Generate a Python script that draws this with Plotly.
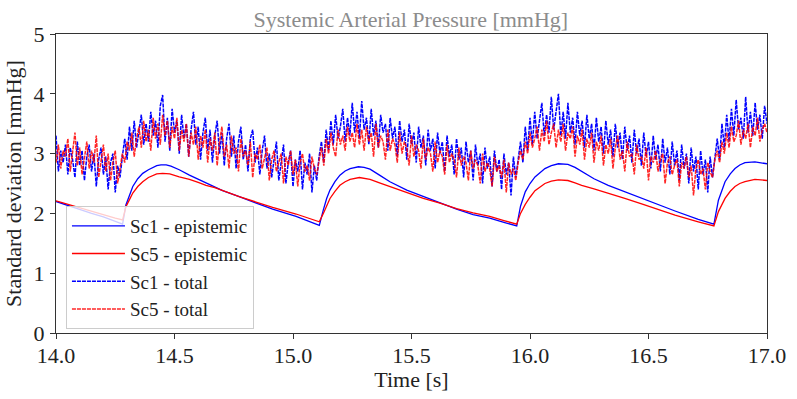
import numpy as np
import plotly.graph_objects as go

# ---- epistemic curves: (time, value) pairs ----
EPI_SC1 = [
    (14.00, 2.20), (14.05, 2.13), (14.10, 2.07), (14.15, 2.00), (14.20, 1.94), (14.25, 1.86),
    (14.281, 1.82), (14.295, 2.14), (14.31, 2.32), (14.324, 2.45), (14.345, 2.58), (14.366, 2.67),
    (14.39, 2.73), (14.408, 2.77), (14.425, 2.80), (14.443, 2.81), (14.465, 2.81), (14.485, 2.79),
    (14.52, 2.73), (14.563, 2.64), (14.60, 2.57), (14.633, 2.50), (14.67, 2.44), (14.703, 2.38),
    (14.773, 2.28), (14.844, 2.17), (14.914, 2.07), (15.013, 1.95), (15.06, 1.88), (15.111, 1.80),
    (15.128, 2.06), (15.142, 2.25), (15.156, 2.39), (15.177, 2.53), (15.198, 2.64), (15.22, 2.71),
    (15.241, 2.75), (15.276, 2.78), (15.30, 2.77), (15.325, 2.74), (15.365, 2.64), (15.409, 2.53),
    (15.48, 2.39), (15.55, 2.28), (15.62, 2.17), (15.69, 2.07), (15.76, 1.98), (15.83, 1.92),
    (15.89, 1.85), (15.944, 1.79), (15.96, 2.12), (15.98, 2.36), (16.00, 2.50), (16.021, 2.61),
    (16.063, 2.75), (16.09, 2.80), (16.12, 2.83), (16.16, 2.82), (16.19, 2.77), (16.218, 2.70),
    (16.27, 2.58), (16.33, 2.47), (16.40, 2.36), (16.471, 2.25), (16.54, 2.14), (16.612, 2.04),
    (16.71, 1.90), (16.776, 1.82), (16.795, 2.22), (16.81, 2.40), (16.823, 2.53), (16.845, 2.66),
    (16.865, 2.75), (16.885, 2.81), (16.907, 2.85), (16.949, 2.86), (16.975, 2.85), (17.00, 2.83),
]
EPI_SC5 = [
    (14.00, 2.21), (14.05, 2.15), (14.10, 2.09), (14.15, 2.03), (14.20, 1.98), (14.25, 1.92),
    (14.281, 1.89), (14.295, 2.11), (14.31, 2.23), (14.324, 2.34), (14.345, 2.45), (14.366, 2.53),
    (14.39, 2.60), (14.408, 2.63), (14.425, 2.66), (14.45, 2.67), (14.48, 2.66), (14.52, 2.61),
    (14.563, 2.57), (14.60, 2.52), (14.633, 2.47), (14.67, 2.43), (14.703, 2.38), (14.773, 2.28),
    (14.844, 2.19), (14.914, 2.10), (15.013, 1.99), (15.06, 1.93), (15.111, 1.86), (15.128, 2.00),
    (15.142, 2.13), (15.156, 2.25), (15.177, 2.37), (15.198, 2.47), (15.22, 2.53), (15.241, 2.57),
    (15.28, 2.60), (15.31, 2.58), (15.325, 2.57), (15.365, 2.51), (15.409, 2.45), (15.48, 2.35),
    (15.55, 2.25), (15.62, 2.17), (15.69, 2.08), (15.76, 2.01), (15.83, 1.95), (15.89, 1.88),
    (15.944, 1.82), (15.96, 2.00), (15.98, 2.15), (16.00, 2.27), (16.021, 2.38), (16.063, 2.50),
    (16.09, 2.54), (16.12, 2.56), (16.16, 2.55), (16.19, 2.51), (16.218, 2.47), (16.27, 2.41),
    (16.33, 2.34), (16.40, 2.25), (16.471, 2.16), (16.54, 2.07), (16.612, 1.97), (16.71, 1.86),
    (16.776, 1.79), (16.795, 2.03), (16.81, 2.16), (16.823, 2.25), (16.845, 2.37), (16.865, 2.45),
    (16.885, 2.50), (16.907, 2.53), (16.949, 2.57), (16.975, 2.56), (17.00, 2.55),
]

# ---- total std (noisy), sampled every 0.01 s from 14.00 to 17.00 ----
TOT_SC1 = [
    3.30, 2.70, 3.05, 2.85, 3.15, 2.65, 3.10, 2.90, 2.60, 3.20, 2.80, 3.05, 2.55, 2.95, 3.15, 2.70,
    3.00, 2.45, 2.90, 3.10, 2.65, 2.95, 2.40, 2.85, 3.00, 2.35, 2.80, 2.60,
    2.95, 3.25, 2.90, 3.45, 3.05, 3.55, 3.10, 3.40, 3.65, 3.15, 3.50, 3.20, 3.70, 3.30, 3.55, 3.10,
    3.80, 3.98,
    3.20, 3.60, 3.05, 3.75, 3.35, 3.55, 3.00, 3.65, 3.25, 3.50, 2.95, 3.40, 3.70, 3.15, 3.45, 2.90,
    3.35, 3.60, 3.05, 3.40, 2.85, 3.30, 3.55, 3.00, 3.35, 2.80, 3.25, 3.50, 2.95, 3.30, 2.75, 3.20,
    3.45, 2.90, 3.15, 2.70, 3.25, 3.40, 2.85, 3.10, 2.65, 3.05, 3.30, 2.75, 3.00, 2.60, 2.95, 3.20,
    2.55, 2.90, 3.15, 2.50, 2.85, 3.05, 2.45, 2.90, 2.70, 3.05, 2.40, 2.85, 2.65, 3.00, 2.35, 2.80,
    2.55,
    2.95, 3.20, 2.85, 3.40, 3.05, 3.55, 3.15, 3.65, 3.25, 3.45, 3.75, 3.20, 3.60, 3.30, 3.85, 3.35,
    3.70,
    3.25, 3.88, 3.40, 3.60, 3.15, 3.75, 3.30, 3.55, 3.10, 3.65, 3.35, 3.50, 3.05, 3.60, 3.25, 3.45,
    2.95, 3.55, 3.20, 3.40, 2.90, 3.50, 3.15, 3.35, 2.85, 3.45, 3.10, 3.30, 2.80, 3.40, 3.05, 3.25,
    2.75, 3.35, 3.00, 3.20, 2.70, 3.30, 2.95, 3.15, 2.65, 3.25, 2.90, 3.10, 2.60, 3.20, 2.85, 3.05,
    2.55, 3.15, 2.80, 3.00, 2.50, 3.10, 2.75, 2.95, 2.45, 3.05, 2.70, 2.90, 2.40, 3.00, 2.65, 2.85,
    2.30, 2.95, 2.60,
    2.90, 3.20, 2.85, 3.45, 3.05, 3.60, 3.15, 3.70, 3.25, 3.55, 3.85, 3.30, 3.65, 3.35, 3.95, 3.40,
    3.75, 4.00,
    3.30, 3.70, 3.25, 3.85, 3.35, 3.60, 3.15, 3.70, 3.30, 3.55, 3.10, 3.65, 3.25, 3.50, 3.05, 3.60,
    3.20, 3.45, 3.00, 3.55, 3.15, 3.40, 2.95, 3.50, 3.10, 3.35, 2.90, 3.45, 3.05, 3.30, 2.85, 3.40,
    3.00, 3.25, 2.80, 3.35, 2.95, 3.20, 2.75, 3.30, 2.90, 3.15, 2.70, 3.25, 2.85, 3.10, 2.65, 3.20,
    2.80, 3.05, 2.55, 3.15, 2.75, 3.00, 2.50, 3.10, 2.70, 2.95, 2.40, 3.05, 2.65, 2.90, 2.35, 2.95,
    2.60,
    2.95, 3.25, 2.90, 3.50, 3.10, 3.65, 3.20, 3.75, 3.30, 3.90, 3.40, 3.60, 3.25, 3.95, 3.35, 3.70,
    3.30, 3.85, 3.40, 3.65, 3.25, 3.80, 3.50,
]
TOT_SC5 = [
    2.85, 3.15, 2.75, 3.05, 2.95, 3.25, 2.70, 3.00, 3.35, 2.80, 3.10, 2.65, 2.95, 3.20, 2.75, 3.05,
    2.85, 3.30, 2.60, 2.90, 3.15, 2.70, 3.00, 2.55, 2.85, 3.05, 2.50, 2.75,
    3.00, 2.85, 3.20, 3.05, 3.35, 2.95, 3.25, 3.45, 3.10, 3.55, 3.20, 3.40, 3.05, 3.60, 3.25, 3.50,
    3.15, 3.65,
    3.30, 3.55, 3.10, 3.45, 3.25, 3.60, 3.05, 3.40, 3.20, 3.50, 2.95, 3.35, 3.15, 3.45, 2.90, 3.30,
    3.10, 3.40, 2.85, 3.25, 3.05, 3.35, 2.80, 3.20, 3.45, 2.95, 3.15, 2.75, 3.30, 3.00, 3.10, 2.70,
    3.25, 2.95, 3.05, 2.80, 3.20, 2.60, 3.00, 2.90, 3.15, 2.75, 2.95, 3.10, 2.55, 2.90, 3.05, 2.70,
    2.85, 3.00, 2.50, 2.95, 2.80, 3.05, 2.65, 2.90, 2.45, 2.85, 3.00, 2.70, 2.80, 2.55, 2.95, 2.75,
    2.65,
    2.90, 3.10, 2.80, 3.25, 3.00, 3.35, 3.10, 2.95, 3.40, 3.15, 3.30, 3.05, 3.45, 3.20, 3.35, 3.10,
    3.50,
    3.15, 3.40, 3.05, 3.45, 3.20, 3.35, 2.95, 3.50, 3.10, 3.30, 3.20, 2.90, 3.40, 3.05, 3.25, 3.15,
    2.85, 3.35, 3.00, 3.20, 3.10, 2.80, 3.30, 2.95, 3.15, 3.05, 2.75, 3.25, 2.90, 3.10, 3.00, 2.70,
    3.20, 2.85, 3.05, 2.95, 2.65, 3.15, 2.85, 3.00, 2.90, 2.60, 3.10, 2.80, 2.95, 2.85, 2.55, 3.05,
    2.75, 2.90, 2.80, 2.50, 3.00, 2.70, 2.85, 2.75, 2.45, 2.95, 2.70, 2.80, 2.60, 2.90, 2.35, 2.85,
    2.65, 2.75, 2.55,
    2.85, 3.05, 2.90, 3.20, 3.00, 3.35, 3.10, 3.25, 3.45, 3.05, 3.40, 3.20, 3.55, 3.15, 3.35, 3.50,
    3.10, 3.40,
    3.20, 3.50, 3.05, 3.35, 3.25, 3.45, 2.95, 3.30, 3.15, 3.40, 2.90, 3.25, 3.10, 3.35, 2.85, 3.20,
    3.05, 3.30, 2.80, 3.15, 3.00, 3.25, 2.75, 3.10, 3.30, 2.90, 3.05, 2.70, 3.20, 2.95, 3.00, 2.65,
    3.15, 2.90, 2.95, 2.75, 3.10, 2.55, 2.95, 2.85, 3.05, 2.70, 2.90, 3.00, 2.50, 2.85, 2.95, 2.65,
    2.80, 2.90, 2.45, 2.85, 2.75, 2.95, 2.60, 2.80, 2.30, 2.75, 2.90, 2.65, 2.75, 2.40, 2.85, 2.70,
    2.60,
    2.90, 3.05, 2.85, 3.20, 3.00, 3.35, 3.10, 3.45, 3.20, 3.30, 3.55, 3.15, 3.40, 3.25, 3.50, 3.10,
    3.45, 3.30, 3.60, 3.20, 3.40, 3.50, 3.35,
]
T_START, T_STEP = 14.0, 0.01

TITLE = "Systemic Arterial Pressure [mmHg]"
X_TITLE = "Time [s]"
Y_TITLE = "Standard deviation [mmHg]"
X_TICKS = [14.0, 14.5, 15.0, 15.5, 16.0, 16.5, 17.0]
Y_TICKS = [0, 1, 2, 3, 4, 5]

FONT = "Liberation Serif, Times New Roman, serif"
DARK = "#222222"

t1 = T_START + T_STEP * np.arange(len(TOT_SC1))
t5 = T_START + T_STEP * np.arange(len(TOT_SC5))
e1t, e1v = zip(*EPI_SC1)
e5t, e5v = zip(*EPI_SC5)

DASH = "4px,1px"
fig = go.Figure()
fig.add_trace(go.Scatter(x=e1t, y=e1v, mode="lines", name="Sc1 - epistemic", legendgroup="a",
                         line=dict(color="#0000ff", width=1.3)))
fig.add_trace(go.Scatter(x=e5t, y=e5v, mode="lines", name="Sc5 - epistemic", legendgroup="b",
                         line=dict(color="#ff0000", width=1.3)))
fig.add_trace(go.Scatter(x=t1, y=TOT_SC1, mode="lines", name="Sc1 - total", legendgroup="c",
                         line=dict(color="#0000ff", width=1.5, dash=DASH)))
fig.add_trace(go.Scatter(x=t5, y=TOT_SC5, mode="lines", name="Sc5 - total", legendgroup="d",
                         opacity=0.85, line=dict(color="#ff0000", width=1.5, dash=DASH)))

axis_common = dict(showgrid=False, zeroline=False, showline=True, linecolor="#333333",
                   linewidth=1.2, mirror=True, ticks="outside", ticklen=5, tickwidth=1.2,
                   tickcolor="#333333", automargin=False,
                   tickfont=dict(family=FONT, size=22, color=DARK))
fig.update_xaxes(range=[14.0, 17.0], tickvals=X_TICKS,
                 ticktext=[f"{v:.1f}" for v in X_TICKS], ticklabelstandoff=-3,
                 title=dict(text=X_TITLE, font=dict(family=FONT, size=22, color=DARK),
                            standoff=2),
                 **axis_common)
fig.update_yaxes(range=[0, 5], tickvals=Y_TICKS, ticktext=[str(v) for v in Y_TICKS],
                 ticklabelstandoff=1,
                 title=dict(text=Y_TITLE, font=dict(family=FONT, size=22, color=DARK),
                            standoff=5),
                 **axis_common)

fig.update_layout(
    width=797, height=399,
    margin=dict(l=56, r=30, t=34, b=66, autoexpand=False),
    plot_bgcolor="white", paper_bgcolor="white",
    title=dict(text=TITLE, x=0.5155, xanchor="center", y=0.952, yanchor="middle",
               font=dict(family=FONT, size=22, color="#8c8c8c")),
    legend=dict(x=0.014, y=0.425, xanchor="left", yanchor="top",
                bgcolor="rgba(255,255,255,0.8)", bordercolor="#cccccc", borderwidth=1,
                font=dict(family=FONT, size=19, color=DARK),
                tracegroupgap=0, itemwidth=53),
    showlegend=True,
)

fig.write_html("out.html", config={"displayModeBar": False},
               post_script="document.body.style.margin='0px';document.body.style.padding='0px';")
